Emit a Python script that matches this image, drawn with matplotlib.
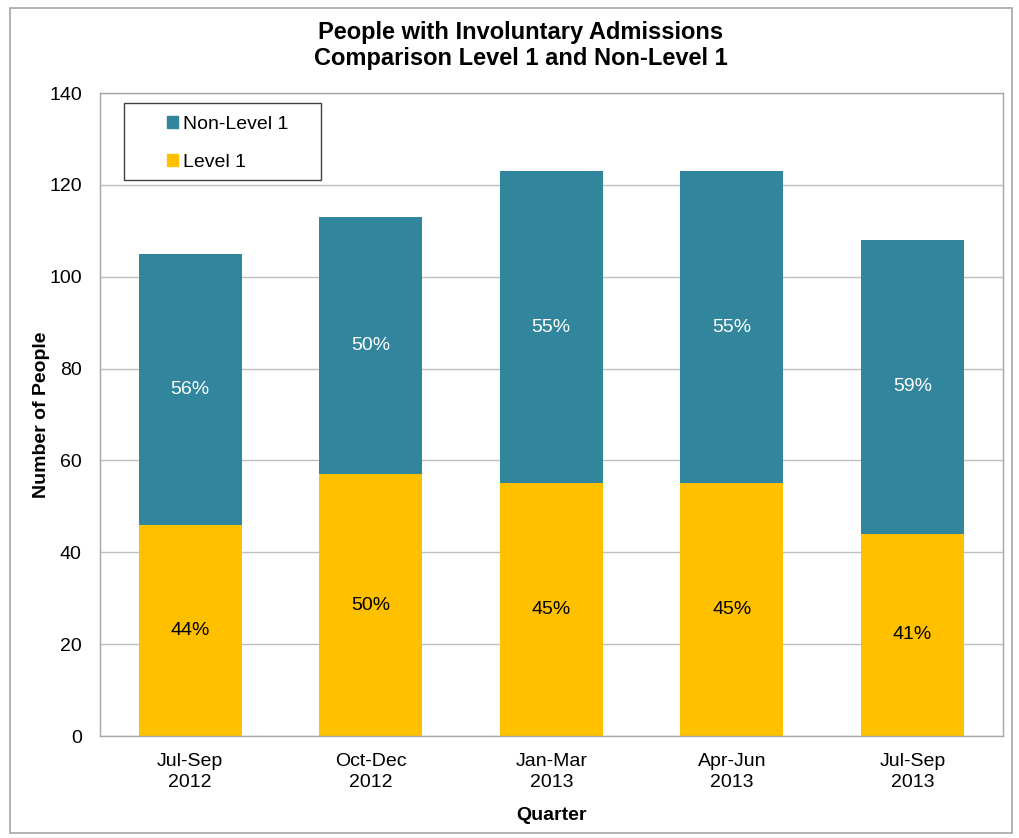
import matplotlib
matplotlib.use("Agg")
import matplotlib.pyplot as plt
from matplotlib.patches import Rectangle, Patch
import numpy as np

plt.rcParams['font.family'] = ['Liberation Sans', 'DejaVu Sans']

quarters = ["Jul-Sep\n2012", "Oct-Dec\n2012", "Jan-Mar\n2013", "Apr-Jun\n2013", "Jul-Sep\n2013"]
level1 = [46, 57, 55, 55, 44]
non_level1 = [59, 56, 68, 68, 64]

TEAL = "#31859C"
GOLD = "#FFC000"
FS = 14


def main():
    fig = plt.figure(figsize=(10.19, 8.38), dpi=100)
    ax = fig.add_axes([0.098, 0.1217, 0.886, 0.7673])

    x = np.arange(len(quarters))
    width = 0.57
    ax.bar(x, level1, width, color=GOLD, zorder=2)
    ax.bar(x, non_level1, width, bottom=level1, color=TEAL, zorder=2)

    # Percentage share of each segment, centred in the segment
    for i in range(len(quarters)):
        total = level1[i] + non_level1[i]
        p1 = round(100 * level1[i] / total)
        ax.text(x[i], level1[i] / 2, "%d%%" % p1, ha='center', va='center',
                fontsize=FS, color='black', zorder=3)
        ax.text(x[i], level1[i] + non_level1[i] / 2, "%d%%" % (100 - p1),
                ha='center', va='center', fontsize=FS, color='white', zorder=3)

    ax.set_xlim(-0.5, len(quarters) - 0.5)
    ax.set_ylim(0, 140)
    ax.set_yticks(range(0, 141, 20))
    ax.set_xticks(x)
    ax.set_xticklabels(quarters, fontsize=FS, linespacing=1.3)
    ax.tick_params(axis='y', labelsize=FS, length=0, pad=13)
    ax.tick_params(axis='x', length=0, pad=12)
    ax.grid(axis='y', color='#BFBFBF', linewidth=1, zorder=0)
    for s in ax.spines.values():
        s.set_color('#A6A6A6')
        s.set_linewidth(1)

    ax.set_xlabel("Quarter", fontsize=FS, fontweight='bold', labelpad=12)
    ax.set_ylabel("Number of People", fontsize=FS, fontweight='bold', labelpad=-1)
    fig.text(0.511, 0.946, "People with Involuntary Admissions\nComparison Level 1 and Non-Level 1",
             ha='center', va='center', fontsize=17, fontweight='bold', linespacing=1.15)

    # legend box drawn separately so it can be wider than its entries
    ax.add_patch(Rectangle((0.0266, 0.865), 0.218, 0.119, transform=ax.transAxes,
                           facecolor='white', edgecolor='#404040', linewidth=1, zorder=4))
    handles = [Patch(color=TEAL, label="Non-Level 1"), Patch(color=GOLD, label="Level 1")]
    leg = ax.legend(handles=handles, loc='upper left', bbox_to_anchor=(0.074, 0.965),
                    fontsize=FS, handlelength=0.6, handleheight=0.6, handletextpad=0.25,
                    labelspacing=1.1, borderpad=0, frameon=False, borderaxespad=0)
    leg.set_zorder(5)

    # chart frame
    fig.patches.append(Rectangle((10 / 1019, 5 / 838), 1002 / 1019, 825 / 838,
                                 transform=fig.transFigure, fill=False,
                                 edgecolor='#A6A6A6', linewidth=1.2))

    fig.savefig("out.png", dpi=100)


if __name__ == "__main__":
    main()
